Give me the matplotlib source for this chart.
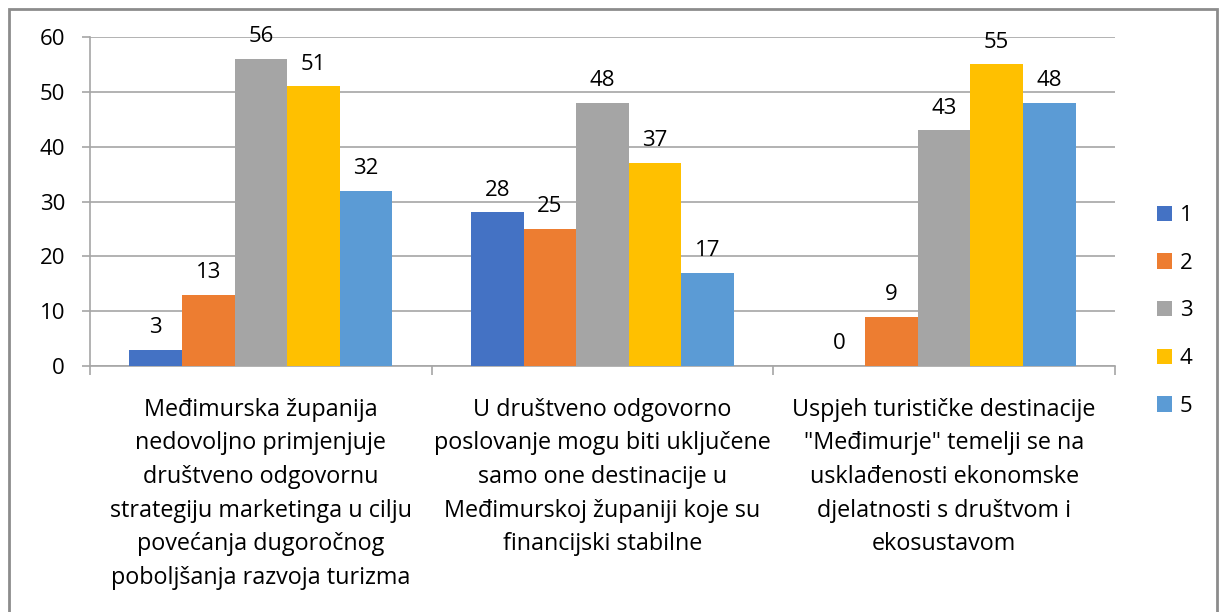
import numpy as np
import matplotlib
matplotlib.use("Agg")
import matplotlib.pyplot as plt
from matplotlib.patches import Rectangle

plt.rcParams['font.family'] = ['Open Sans', 'DejaVu Sans']

categories = [
    "Međimurska županija\nnedovoljno primjenjuje\ndruštveno odgovornu\nstrategiju marketinga u cilju\npovećanja dugoročnog\npoboljšanja razvoja turizma",
    "U društveno odgovorno\nposlovanje mogu biti uključene\nsamo one destinacije u\nMeđimurskoj županiji koje su\nfinancijski stabilne",
    "Uspjeh turističke destinacije\n\"Međimurje\" temelji se na\nusklađenosti ekonomske\ndjelatnosti s društvom i\nekosustavom",
]
series_names = ["1", "2", "3", "4", "5"]
values = [
    [3, 28, 0],
    [13, 25, 9],
    [56, 48, 43],
    [51, 37, 55],
    [32, 17, 48],
]
colors = ["#4472C4", "#ED7D31", "#A5A5A5", "#FFC000", "#5B9BD5"]

W, H = 1219, 612
fig = plt.figure(figsize=(W / 100, H / 100), dpi=100)
ax = fig.add_axes([90 / W, 1 - 366 / H, (1115 - 90) / W, (366 - 37) / H])

x = np.arange(len(categories))
bw = 1 / 6.5
fs = 16
for i, (name, vals) in enumerate(zip(series_names, values)):
    pos = x + (i - 2) * bw
    ax.bar(pos, vals, width=bw, color=colors[i], label=name, zorder=3)
    for p, v in zip(pos, vals):
        ax.annotate(str(v), (p, v), xytext=(0, 12), textcoords="offset points",
                    ha="center", va="baseline", fontsize=fs, color="#000000")

ax.set_xlim(-0.5, len(categories) - 0.5)
ax.set_ylim(0, 60)
ax.set_yticks(range(0, 61, 10))
ax.yaxis.grid(True, color="#A6A6A6", linewidth=1.2, zorder=0)
ax.set_axisbelow(True)

ax.set_xticks(x)
ax.set_xticklabels(categories, fontsize=16.8, linespacing=1.53)
ax.tick_params(axis="x", which="major", length=0, pad=23)
ax.set_xticks(np.arange(-0.5, len(categories)), minor=True)
ax.tick_params(axis="x", which="minor", length=6.5, width=1.2, color="#A6A6A6", direction="out")
ax.tick_params(axis="y", length=6, width=1.2, color="#A6A6A6", direction="out", pad=12, labelsize=fs)

for s in ["top", "right"]:
    ax.spines[s].set_visible(False)
for s in ["left", "bottom"]:
    ax.spines[s].set_color("#A6A6A6")
    ax.spines[s].set_linewidth(1.2)

ax.legend(loc="center left", bbox_to_anchor=(1157 / W, 1 - 311 / H),
          bbox_transform=fig.transFigure, frameon=False, fontsize=fs,
          handlelength=0.68, handleheight=0.68, handletextpad=0.35,
          labelspacing=1.2, borderpad=0, borderaxespad=0)

fig.patches.append(Rectangle((9 / W, -0.2), (1217 - 9) / W, 1.2 - 9 / H,
                             transform=fig.transFigure, fill=False,
                             edgecolor="#8C8C8C", linewidth=2))

fig.savefig("out.png", dpi=100)
